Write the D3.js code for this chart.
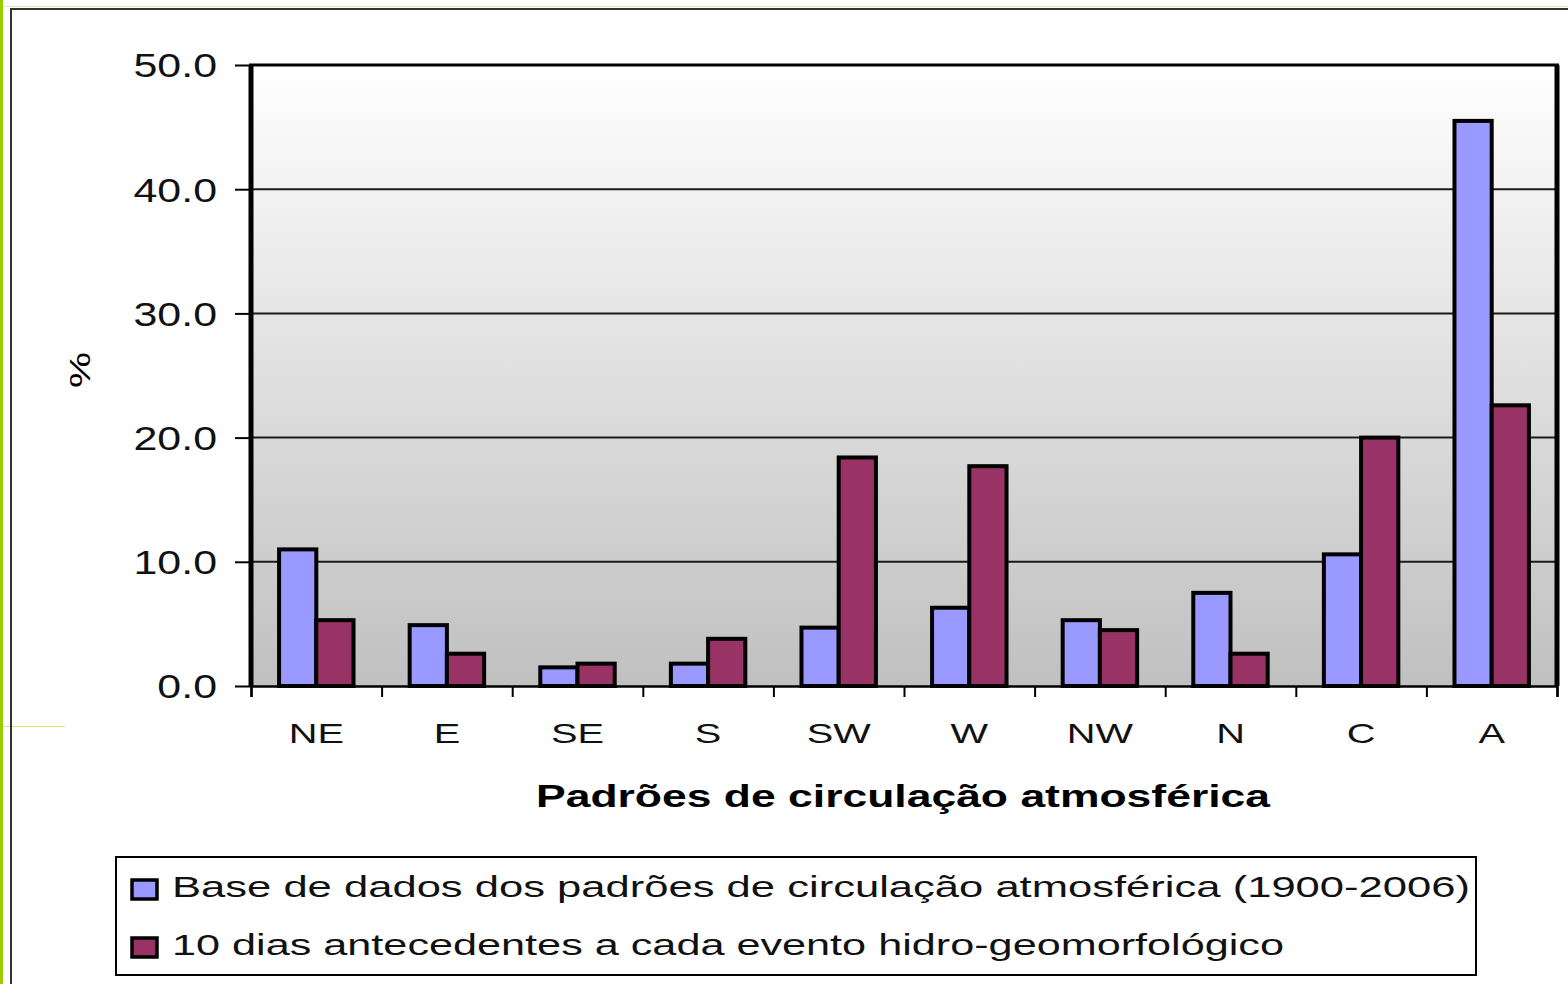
<!DOCTYPE html>
<html>
<head>
<meta charset="utf-8">
<script src="https://cdn.jsdelivr.net/npm/d3@7"></script>
<style>
  body { margin: 0; background: #fff; }
  svg { display: block; font-family: "Liberation Sans", Arial, sans-serif; }
</style>
</head>
<body>
<div id="chart"></div>
<script>
// categories and series
var categories = ["NE", "E", "SE", "S", "SW", "W", "NW", "N", "C", "A"];
var seriesNames = [
  "Base de dados dos padrões de circulação atmosférica (1900-2006)",
  "10 dias antecedentes a cada evento hidro-geomorfológico"
];
var baseValues = [11.0, 4.9, 1.5, 1.8, 4.7, 6.3, 5.3, 7.5, 10.6, 45.5];
var eventValues = [5.3, 2.6, 1.8, 3.8, 18.4, 17.7, 4.5, 2.6, 20.0, 22.6];
var yTicks = [0, 10, 20, 30, 40, 50];
var colors = ["#9999ff", "#993366"];

var width = 1568;
var height = 984;

// plot box
var plotLeft = 251;
var plotRight = 1557;
var plotTop = 65;
var plotBottom = 686;

var svg = d3.select("#chart")
  .append("svg")
  .attr("width", width)
  .attr("height", height);

// page decoration
svg.append("rect").attr("x", 0).attr("y", 0).attr("width", 3).attr("height", height).attr("fill", "#99cc00");
svg.append("line").attr("x1", 3).attr("x2", width).attr("y1", 6.5).attr("y2", 6.5)
  .attr("stroke", "#eee8b0").attr("stroke-width", 1);
svg.append("line").attr("x1", 3).attr("x2", 65).attr("y1", 726.5).attr("y2", 726.5)
  .attr("stroke", "#ccee66").attr("stroke-width", 1);
svg.append("rect").attr("x", 11).attr("y", 9).attr("width", 1700).attr("height", 1100)
  .attr("fill", "none").attr("stroke", "#333").attr("stroke-width", 2);

// gradient for plot area
var grad = svg.append("defs").append("linearGradient")
  .attr("id", "bg").attr("x1", 0).attr("y1", 0).attr("x2", 0).attr("y2", 1);
grad.append("stop").attr("offset", "0%").attr("stop-color", "#ffffff");
grad.append("stop").attr("offset", "100%").attr("stop-color", "#c0c0c0");

svg.append("rect")
  .attr("x", plotLeft).attr("y", plotTop)
  .attr("width", plotRight - plotLeft).attr("height", plotBottom - plotTop)
  .attr("fill", "url(#bg)");

// scales
var y = d3.scaleLinear().domain([0, 50]).range([plotBottom, plotTop]);
var x0 = d3.scaleBand().domain(categories).range([plotLeft, plotRight])
  .paddingInner(0.43).paddingOuter(0.215);
var x1 = d3.scaleBand().domain([0, 1]).range([0, x0.bandwidth()]);
var xEdge = d3.scaleLinear().domain([0, categories.length]).range([plotLeft, plotRight]);

// gridlines
svg.append("g")
  .selectAll("line")
  .data(yTicks.filter(function(d) { return d > 0 && d < 50; }))
  .enter()
  .append("line")
  .attr("x1", plotLeft).attr("x2", plotRight)
  .attr("y1", function(d) { return y(d); })
  .attr("y2", function(d) { return y(d); })
  .attr("stroke", "#1a1a1a").attr("stroke-width", 2);

// bars
var groups = svg.append("g")
  .selectAll("g")
  .data(categories)
  .enter()
  .append("g")
  .attr("transform", function(d) { return "translate(" + x0(d) + ",0)"; });

groups.selectAll("rect")
  .data(function(d, i) {
    return [
      { s: 0, v: baseValues[i] },
      { s: 1, v: eventValues[i] }
    ];
  })
  .enter()
  .append("rect")
  .attr("x", function(d) { return x1(d.s); })
  .attr("y", function(d) { return y(d.v); })
  .attr("width", x1.bandwidth())
  .attr("height", function(d) { return plotBottom - y(d.v); })
  .attr("fill", function(d) { return colors[d.s]; })
  .attr("stroke", "#000")
  .attr("stroke-width", 4);

// frame: top, left, right thick lines
svg.append("line").attr("x1", plotLeft - 2).attr("x2", plotRight + 2)
  .attr("y1", plotTop).attr("y2", plotTop).attr("stroke", "#000").attr("stroke-width", 3);
svg.append("line").attr("x1", plotLeft).attr("x2", plotLeft)
  .attr("y1", plotTop).attr("y2", plotBottom).attr("stroke", "#000").attr("stroke-width", 5);
svg.append("line").attr("x1", plotRight).attr("x2", plotRight)
  .attr("y1", plotTop).attr("y2", plotBottom).attr("stroke", "#000").attr("stroke-width", 5);

// y axis
var yAxis = d3.axisLeft(y).tickValues(yTicks).tickFormat(d3.format(".1f")).tickSize(16);
var yG = svg.append("g")
  .attr("transform", "translate(" + plotLeft + ",0)")
  .call(yAxis);
yG.select(".domain").remove();
yG.selectAll(".tick line").attr("stroke", "#000").attr("stroke-width", 2);
yG.selectAll(".tick text")
  .attr("x", 0).attr("dy", "0.36em")
  .attr("transform", "translate(-34,0) scale(1.3,1)")
  .style("font-family", "Liberation Sans, Arial, sans-serif")
  .style("font-size", "33px")
  .attr("fill", "#111");

// x axis: boundary ticks
var edgeAxis = d3.axisBottom(xEdge).ticks(categories.length).tickFormat("").tickSize(11);
var eG = svg.append("g")
  .attr("transform", "translate(0," + plotBottom + ")")
  .call(edgeAxis);
eG.select(".domain").attr("stroke", "#000").attr("stroke-width", 2.5);
eG.selectAll(".tick line").attr("stroke", "#000").attr("stroke-width", 2);

// x axis: category labels
var xAxis = d3.axisBottom(x0).tickSize(0);
var xG = svg.append("g")
  .attr("transform", "translate(0," + plotBottom + ")")
  .call(xAxis);
xG.select(".domain").remove();
xG.selectAll(".tick text")
  .attr("y", 0).attr("dy", 0)
  .attr("transform", "translate(0,57) scale(1.42,1)")
  .style("font-family", "Liberation Sans, Arial, sans-serif")
  .style("font-size", "28px")
  .attr("fill", "#111");

// axis titles
svg.append("text")
  .attr("x", 536).attr("y", 807)
  .attr("textLength", 734).attr("lengthAdjust", "spacingAndGlyphs")
  .style("font-size", "31px").style("font-weight", "bold")
  .attr("fill", "#000")
  .text("Padrões de circulação atmosférica");

svg.append("text")
  .attr("transform", "translate(90,370) rotate(-90) scale(1.35,1)")
  .attr("text-anchor", "middle")
  .style("font-size", "30px")
  .attr("fill", "#000")
  .text("%");

// legend
var legend = svg.append("g");
legend.append("rect")
  .attr("x", 116).attr("y", 857).attr("width", 1360).attr("height", 118)
  .attr("fill", "#fff").attr("stroke", "#000").attr("stroke-width", 2);

var legendBaselines = [897, 955];
var legendLengths = [1298, 1112];
var items = legend.selectAll("g.item")
  .data(seriesNames)
  .enter()
  .append("g")
  .attr("class", "item");
items.append("rect")
  .attr("x", 132)
  .attr("y", function(d, i) { return legendBaselines[i] - 17; })
  .attr("width", 25).attr("height", 19)
  .attr("fill", function(d, i) { return colors[i]; })
  .attr("stroke", "#000").attr("stroke-width", 3.5);
items.append("text")
  .attr("x", 172)
  .attr("y", function(d, i) { return legendBaselines[i]; })
  .attr("textLength", function(d, i) { return legendLengths[i]; })
  .attr("lengthAdjust", "spacingAndGlyphs")
  .style("font-size", "30px")
  .attr("fill", "#111")
  .text(function(d) { return d; });
</script>
</body>
</html>
